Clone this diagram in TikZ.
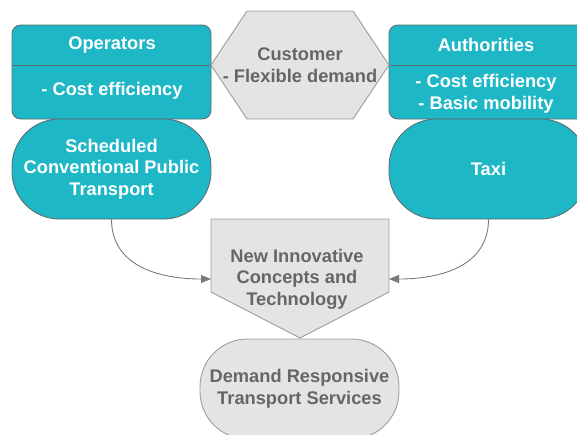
\documentclass[tikz,border=0pt]{standalone}
\usepackage{fontspec}
\setmainfont{Liberation Sans}
\usetikzlibrary{arrows.meta}
\definecolor{tealfill}{HTML}{1DB7C6}
\definecolor{tealedge}{HTML}{5A6E72}
\definecolor{greyfill}{HTML}{E4E4E4}
\definecolor{greyedge}{HTML}{9C9C9C}
\definecolor{greytext}{HTML}{666666}
\definecolor{linkgrey}{HTML}{7A7A7A}

\begin{document}
\begin{tikzpicture}[x=0.02cm,y=-0.02cm,>={Triangle[length=2mm,width=1.6mm]},
  every node/.style={font=\bfseries\fontsize{10.4}{12.3}\selectfont,align=center},
  tealbox/.style={fill=tealfill,draw=tealedge,line width=0.5pt},
  greybox/.style={fill=greyfill,draw=greyedge,line width=0.5pt},
  stadium/.style={rounded corners=0.95cm,minimum width=3.98cm,minimum height=2cm,inner sep=0pt},
  link/.style={->,draw=linkgrey,line width=0.5pt}]
  \useasboundingbox (0,0) rectangle (577,434);
  \clip (0,0) rectangle (577,434);
  % stakeholders
  \draw[tealbox,rounded corners=5pt] (12,25) rectangle (211,119);
  \draw[draw=tealedge,line width=0.5pt] (12,65) -- (211,65);
  \node[text=white] (oper) at (112,45) {Operators};
  \node[text=white] (operaim) at (112,91) {- Cost efficiency};
  \draw[tealbox,rounded corners=5pt] (389,25) rectangle (586,119);
  \draw[draw=tealedge,line width=0.5pt] (389,65) -- (586,65);
  \node[text=white] (auth) at (486,45) {Authorities};
  \node[text=white] (authaim) at (486,94) {- Cost efficiency\\- Basic mobility};
  \draw[greybox] (211,65) -- (247,11) -- (353,11) -- (389,65) -- (353,119) -- (247,119) -- cycle;
  \node[text=greytext] (cust) at (300,65) {Customer\\- Flexible demand};
  % existing services
  \node[tealbox,stadium,text=white] (sched) at (111.5,169) {Scheduled\\Conventional Public\\Transport};
  \node[tealbox,stadium,text=white] (taxi) at (488.5,169) {Taxi};
  % innovation and result
  \draw[greybox] (211,219) -- (389,219) -- (389,292) -- (300,338) -- (211,292) -- cycle;
  \node[text=greytext] (innov) at (297,279) {New Innovative\\Concepts and\\Technology};
  \coordinate (innovL) at (211,279);
  \coordinate (innovR) at (389,279);
  \node[greybox,stadium,text=greytext] (drt) at (299.5,389) {Demand Responsive\\Transport Services};
  \draw[link] (sched.south) .. controls +(0,45) and +(-55,0) .. (innovL);
  \draw[link] (taxi.south) .. controls +(0,45) and +(55,0) .. (innovR);
\end{tikzpicture}
\end{document}
